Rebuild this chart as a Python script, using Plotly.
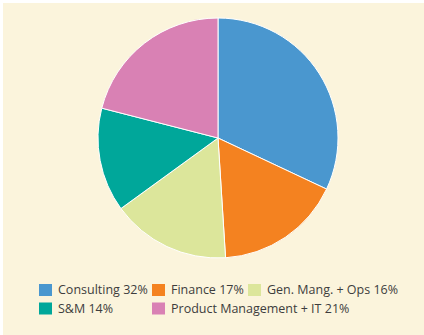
import plotly.graph_objects as go

# ---- data ----
categories = ["Consulting", "Finance", "Gen. Mang. + Ops", "S&M", "Product Management + IT"]
shares = [32, 17, 16, 14, 21]
colors = ["#4A97CF", "#F48220", "#DCE69B", "#00A79A", "#D981B4"]

W, H = 424, 335
BG = "#FBF4DC"
TEXT = "#3D3D3D"

fig = go.Figure()
fig.add_trace(go.Pie(
    labels=categories,
    values=shares,
    marker=dict(colors=colors, line=dict(color="#FFFFFF", width=1)),
    sort=False,
    direction="clockwise",
    rotation=0,
    textinfo="none",
    hoverinfo="label+percent",
    showlegend=False,
    domain=dict(x=[98 / W, 338 / W], y=[(H - 258) / H, (H - 18) / H]),
))

# ---- legend (two rows, aligned columns) ----
col_x = [39, 152, 248]          # swatch left edges (px)
row_y = [290, 308.5]            # row centres (px from top)
slots = [(0, 0), (0, 1), (0, 2), (1, 0), (1, 1)]
sw, sh = 13, 12
shapes = [dict(type="rect", xref="paper", yref="paper", x0=3 / W, x1=1, y0=0, y1=(H - 3) / H,
               fillcolor=BG, line=dict(width=0), layer="below")]
annotations = []
for (r, c), name, val, col in zip(slots, categories, shares, colors):
    x0 = col_x[c]
    yc = row_y[r]
    shapes.append(dict(type="rect", xref="paper", yref="paper",
                       x0=x0 / W, x1=(x0 + sw) / W,
                       y0=(H - yc - sh / 2) / H, y1=(H - yc + sh / 2) / H,
                       fillcolor=col, line=dict(width=0)))
    annotations.append(dict(xref="paper", yref="paper", x=(x0 + sw + 4) / W, y=(H - yc + 0.5) / H,
                            xanchor="left", yanchor="middle", showarrow=False,
                            text=f"{name} {val}%",
                            font=dict(family="Open Sans", size=12.5, color=TEXT)))

fig.update_layout(
    width=W, height=H,
    margin=dict(l=0, r=0, t=0, b=0),
    paper_bgcolor="#FFFFFF",
    plot_bgcolor="#FFFFFF",
    shapes=shapes,
    annotations=annotations,
)

fig.write_html("out.html")
